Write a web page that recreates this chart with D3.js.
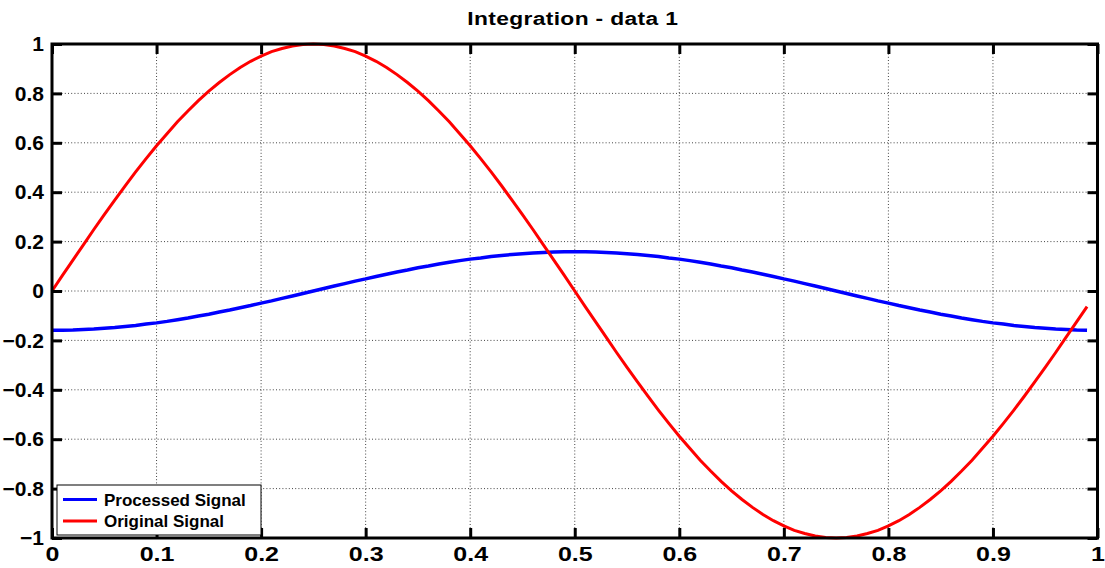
<!DOCTYPE html>
<html>
<head>
<meta charset="utf-8">
<script src="https://cdn.jsdelivr.net/npm/d3@7/dist/d3.min.js"></script>
<style>
  html, body { margin: 0; padding: 0; background: #fff; }
  svg { display: block; }
  text { font-family: "Liberation Sans", Arial, Helvetica, sans-serif; font-weight: bold; fill: #000; }
</style>
</head>
<body>
<svg id="chart" width="1105" height="568"></svg>
<script>
// Sample spacing of both signals (seconds)
const sampleStep = 0.01;

// Original signal, one value per sample
const originalSignal = [
  0.000, 0.063, 0.125, 0.187, 0.249, 0.309, 0.368, 0.426, 0.482, 0.536,
  0.588, 0.637, 0.685, 0.729, 0.771, 0.809, 0.844, 0.876, 0.905, 0.930,
  0.951, 0.969, 0.982, 0.992, 0.998, 1.000, 0.998, 0.992, 0.982, 0.969,
  0.951, 0.930, 0.905, 0.876, 0.844, 0.809, 0.771, 0.729, 0.685, 0.637,
  0.588, 0.536, 0.482, 0.426, 0.368, 0.309, 0.249, 0.187, 0.125, 0.063,
  0.000, -0.063, -0.125, -0.187, -0.249, -0.309, -0.368, -0.426, -0.482, -0.536,
  -0.588, -0.637, -0.685, -0.729, -0.771, -0.809, -0.844, -0.876, -0.905, -0.930,
  -0.951, -0.969, -0.982, -0.992, -0.998, -1.000, -0.998, -0.992, -0.982, -0.969,
  -0.951, -0.930, -0.905, -0.876, -0.844, -0.809, -0.771, -0.729, -0.685, -0.637,
  -0.588, -0.536, -0.482, -0.426, -0.368, -0.309, -0.249, -0.187, -0.125, -0.063
];

// Integrated (processed) signal, one value per sample
const processedSignal = [
  -0.159, -0.159, -0.158, -0.156, -0.154, -0.151, -0.148, -0.144, -0.140, -0.134,
  -0.129, -0.123, -0.116, -0.109, -0.101, -0.094, -0.085, -0.077, -0.068, -0.059,
  -0.049, -0.040, -0.030, -0.020, -0.010, 0.000, 0.010, 0.020, 0.030, 0.040,
  0.049, 0.059, 0.068, 0.077, 0.085, 0.094, 0.101, 0.109, 0.116, 0.123,
  0.129, 0.134, 0.140, 0.144, 0.148, 0.151, 0.154, 0.156, 0.158, 0.159,
  0.159, 0.159, 0.158, 0.156, 0.154, 0.151, 0.148, 0.144, 0.140, 0.134,
  0.129, 0.123, 0.116, 0.109, 0.101, 0.094, 0.085, 0.077, 0.068, 0.059,
  0.049, 0.040, 0.030, 0.020, 0.010, 0.000, -0.010, -0.020, -0.030, -0.040,
  -0.049, -0.059, -0.068, -0.077, -0.085, -0.094, -0.101, -0.109, -0.116, -0.123,
  -0.129, -0.134, -0.140, -0.144, -0.148, -0.151, -0.154, -0.156, -0.158, -0.159
];

const xTicks = [0, 0.1, 0.2, 0.3, 0.4, 0.5, 0.6, 0.7, 0.8, 0.9, 1];
const yTicks = [-1, -0.8, -0.6, -0.4, -0.2, 0, 0.2, 0.4, 0.6, 0.8, 1];
const seriesNames = ["Processed Signal", "Original Signal"];
const seriesColors = ["#0000ff", "#ff0000"];
const chartTitle = "Integration - data 1";

const svg = d3.select("#chart");
const box = { left: 52, right: 1097.5, top: 44, bottom: 538 };

const x = d3.scaleLinear().domain([0, 1]).range([box.left, box.right]);
const y = d3.scaleLinear().domain([-1, 1]).range([box.bottom, box.top]);

const tickFmt = d => (d === 0 ? "0" : d3.format("")(+d.toFixed(1)));

// Dotted grid
const grid = svg.append("g");
grid.selectAll(".gx").data(xTicks.slice(1, -1)).join("line")
  .attr("x1", d => x(d)).attr("x2", d => x(d))
  .attr("y1", box.top).attr("y2", box.bottom)
  .attr("stroke", "#444").attr("stroke-width", 1).attr("stroke-dasharray", "1,2.2");
grid.selectAll(".gy").data(yTicks.slice(1, -1)).join("line")
  .attr("x1", box.left).attr("x2", box.right)
  .attr("y1", d => y(d)).attr("y2", d => y(d))
  .attr("stroke", "#444").attr("stroke-width", 1).attr("stroke-dasharray", "1,2.2");

// Signals
const line = d3.line().x(d => x(d[0])).y(d => y(d[1]));
const toPts = arr => arr.map((v, i) => [i * sampleStep, v]);

svg.append("path").datum(toPts(processedSignal))
  .attr("d", line).attr("fill", "none")
  .attr("stroke", seriesColors[0]).attr("stroke-width", 3.5);
svg.append("path").datum(toPts(originalSignal))
  .attr("d", line).attr("fill", "none")
  .attr("stroke", seriesColors[1]).attr("stroke-width", 3);

// Axes: ticks point inward on all four sides
const tickLen = 10;
const axisBottom = d3.axisBottom(x).tickValues(xTicks).tickSize(-tickLen).tickPadding(9).tickFormat(tickFmt);
const axisTop = d3.axisTop(x).tickValues(xTicks).tickSize(-tickLen).tickFormat("");
const axisLeft = d3.axisLeft(y).tickValues(yTicks).tickSize(-tickLen).tickPadding(8).tickFormat(tickFmt);
const axisRight = d3.axisRight(y).tickValues(yTicks).tickSize(-tickLen).tickFormat("");

function styleAxis(g, size) {
  g.select(".domain").remove();
  g.selectAll(".tick line").attr("stroke", "#000").attr("stroke-width", 3);
  g.selectAll(".tick text").attr("font-size", size).attr("font-weight", "bold")
    .attr("font-family", "'Liberation Sans', Arial, sans-serif").attr("fill", "#000");
}
const gx = svg.append("g").attr("transform", `translate(0,${box.bottom})`).call(axisBottom).call(styleAxis, 20);
// x labels are drawn slightly wider than tall
gx.selectAll(".tick text").attr("transform", "scale(1.25,1)");
svg.append("g").attr("transform", `translate(0,${box.top})`).call(axisTop).call(styleAxis, 20);
svg.append("g").attr("transform", `translate(${box.left},0)`).call(axisLeft).call(styleAxis, 21);
svg.append("g").attr("transform", `translate(${box.right},0)`).call(axisRight).call(styleAxis, 20);

// Axes box
svg.append("rect")
  .attr("x", box.left).attr("y", box.top)
  .attr("width", box.right - box.left).attr("height", box.bottom - box.top)
  .attr("fill", "none").attr("stroke", "#000").attr("stroke-width", 3);

// Title
svg.append("text")
  .attr("transform", `translate(${(box.left + box.right) / 2 - 2},25) scale(1.2,1)`)
  .attr("text-anchor", "middle").attr("font-size", 19)
  .attr("letter-spacing", 0.3)
  .text(chartTitle);

// Legend
const legend = svg.append("g").attr("transform", "translate(57,485)");
legend.append("rect").attr("width", 204).attr("height", 50)
  .attr("fill", "#fff").attr("stroke", "#000").attr("stroke-width", 1);
seriesNames.forEach((name, i) => {
  const cy = 14.5 + i * 21.5;
  legend.append("line").attr("x1", 6).attr("x2", 40).attr("y1", cy).attr("y2", cy)
    .attr("stroke", seriesColors[i]).attr("stroke-width", 3);
  legend.append("text").attr("x", 47).attr("y", cy + 6).attr("font-size", 17).text(name);
});
</script>
</body>
</html>
